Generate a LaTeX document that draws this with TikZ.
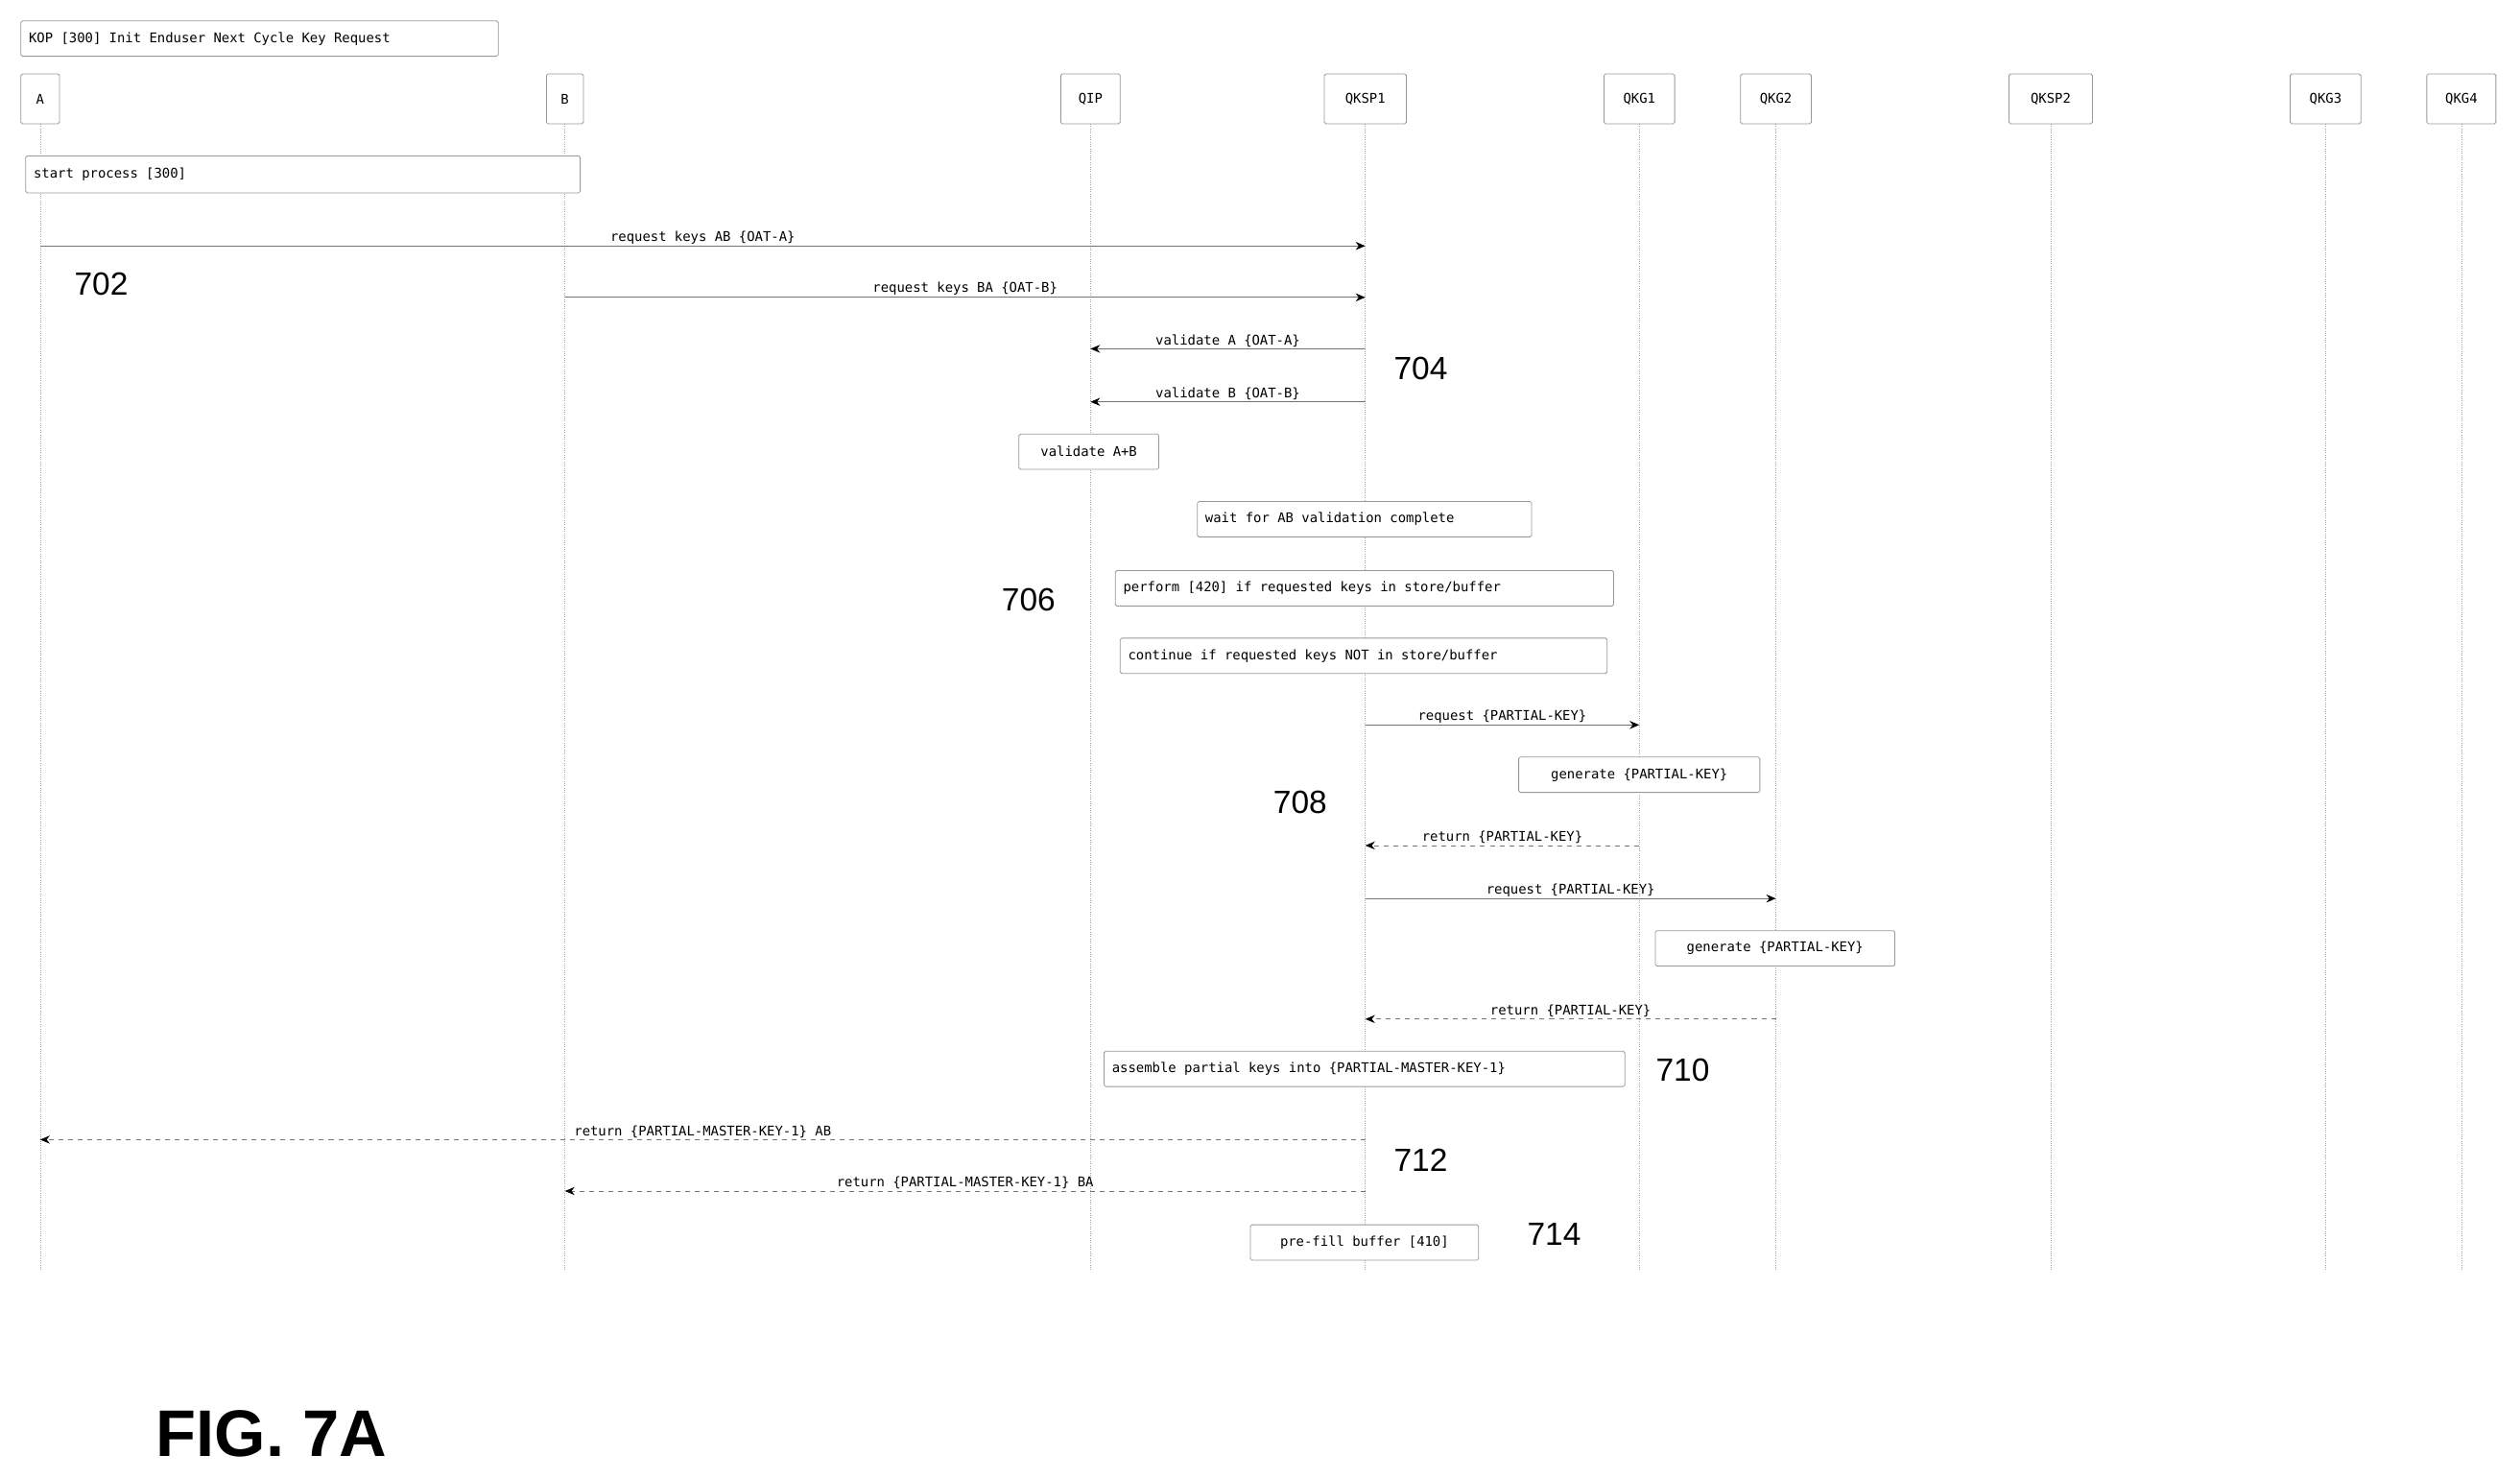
\documentclass[tikz,border=0pt]{standalone}
\usepackage{fontspec}
\setmainfont{Liberation Sans}
\newfontfamily\monof[WordSpace={1,0,0}]{DejaVu Sans Mono}
\usetikzlibrary{arrows.meta}
\begin{document}
\begin{tikzpicture}[x=1pt,y=-1pt,
  lbl/.style={font=\monof\fontsize{8.3}{9}\selectfont,inner sep=1pt},
  hbox/.style={draw=gray!80,line width=0.5pt,rounded corners=1pt,fill=white,font=\monof\fontsize{8.3}{9}\selectfont,inner sep=0pt},
  ltxt/.style={font=\monof\fontsize{8.3}{9}\selectfont,inner sep=0pt,anchor=west},
  lifeline/.style={draw=gray!70,line width=0.4pt,densely dotted},
  msg/.style={draw=gray!90!black,line width=0.5pt,-{Stealth[length=6pt,width=5pt,black]}},
  ret/.style={msg,dashed},
  num/.style={font=\fontsize{20}{22}\selectfont,inner sep=0pt}]
\useasboundingbox (0,0) rectangle (1568,920);
\fill[white] (0,0) rectangle (1568,920);
% title
\node[hbox,minimum width=297pt,minimum height=22pt] (title) at (161.5,24) {};
\node[ltxt] (titlet) at ([xshift=5pt]title.west) {KOP [300] Init Enduser Next Cycle Key Request};
% lifelines
\foreach \n/\x/\w in {A/25/24,B/351.5/23,QIP/678.5/37,QKSP1/849.5/51,QKG1/1020/44,QKG2/1105/44,QKSP2/1276/52,QKG3/1447/44,QKG4/1531.5/43}{
  \coordinate (\n-b) at (\x,790);
  \draw[lifeline] (\x,77) -- (\n-b);
  \node[hbox,minimum width=\w pt,minimum height=31pt] (\n) at (\x,61.5) {\n};
}
% start process
\node[hbox,minimum width=345pt,minimum height=23pt] (sp) at (188.5,108.5) {};
\node[ltxt] (spt) at ([xshift=5pt]sp.west) {start process [300]};
% messages
\coordinate (a1s) at (25,153); \coordinate (a1e) at (849.5,153);
\draw[msg] (a1s) -- node[lbl,above] {request keys AB \{OAT-A\}} (a1e);
\coordinate (b1s) at (351.5,185); \coordinate (b1e) at (849.5,185);
\draw[msg] (b1s) -- node[lbl,above] {request keys BA \{OAT-B\}} (b1e);
\coordinate (c1s) at (849.5,217); \coordinate (c1e) at (678.5,217);
\draw[msg] (c1s) -- node[lbl,above] {validate A \{OAT-A\}} (c1e);
\coordinate (c2s) at (849.5,250); \coordinate (c2e) at (678.5,250);
\draw[msg] (c2s) -- node[lbl,above] {validate B \{OAT-B\}} (c2e);
\node[hbox,minimum width=87pt,minimum height=22pt] (vab) at (677.5,281) {validate A+B};
\node[hbox,minimum width=208pt,minimum height=22pt] (wait) at (849,323) {};
\node[ltxt] (waitt) at ([xshift=5pt]wait.west) {wait for AB validation complete};
\node[hbox,minimum width=310pt,minimum height=22pt] (perf) at (849,366) {};
\node[ltxt] (perft) at ([xshift=5pt]perf.west) {perform [420] if requested keys in store/buffer};
\node[hbox,minimum width=303pt,minimum height=22pt] (cont) at (848.5,408) {};
\node[ltxt] (contt) at ([xshift=5pt]cont.west) {continue if requested keys NOT in store/buffer};
\coordinate (d1s) at (849.5,451); \coordinate (d1e) at (1020,451);
\draw[msg] (d1s) -- node[lbl,above] {request \{PARTIAL-KEY\}} (d1e);
\node[hbox,minimum width=150pt,minimum height=22pt] (g1) at (1020,482) {generate \{PARTIAL-KEY\}};
\coordinate (d2s) at (1020,526); \coordinate (d2e) at (849.5,526);
\draw[ret] (d2s) -- node[lbl,above] {return \{PARTIAL-KEY\}} (d2e);
\coordinate (e1s) at (849.5,559); \coordinate (e1e) at (1105,559);
\draw[msg] (e1s) -- node[lbl,above] {request \{PARTIAL-KEY\}} (e1e);
\node[hbox,minimum width=149pt,minimum height=22pt] (g2) at (1104.5,590) {generate \{PARTIAL-KEY\}};
\coordinate (e2s) at (1105,634); \coordinate (e2e) at (849.5,634);
\draw[ret] (e2s) -- node[lbl,above] {return \{PARTIAL-KEY\}} (e2e);
\node[hbox,minimum width=324pt,minimum height=22pt] (asm) at (849,665) {};
\node[ltxt] (asmt) at ([xshift=5pt]asm.west) {assemble partial keys into \{PARTIAL-MASTER-KEY-1\}};
\coordinate (f1s) at (849.5,709); \coordinate (f1e) at (25,709);
\draw[ret] (f1s) -- node[lbl,above] {return \{PARTIAL-MASTER-KEY-1\} AB} (f1e);
\coordinate (f2s) at (849.5,741); \coordinate (f2e) at (351.5,741);
\draw[ret] (f2s) -- node[lbl,above] {return \{PARTIAL-MASTER-KEY-1\} BA} (f2e);
\node[hbox,minimum width=142pt,minimum height=22pt] (pre) at (849,773) {pre-fill buffer [410]};
% numbers
\node[num] (n702) at (63,177) {702};
\node[num] (n704) at (884,229) {704};
\node[num] (n706) at (640,373) {706};
\node[num] (n708) at (809,499) {708};
\node[num] (n710) at (1047,666) {710};
\node[num] (n712) at (884,722) {712};
\node[num] (n714) at (967,768) {714};
\node[font=\bfseries\fontsize{41}{44}\selectfont,anchor=west,inner sep=0pt] (fig) at (97,892) {FIG. 7A};
\end{tikzpicture}
\end{document}
